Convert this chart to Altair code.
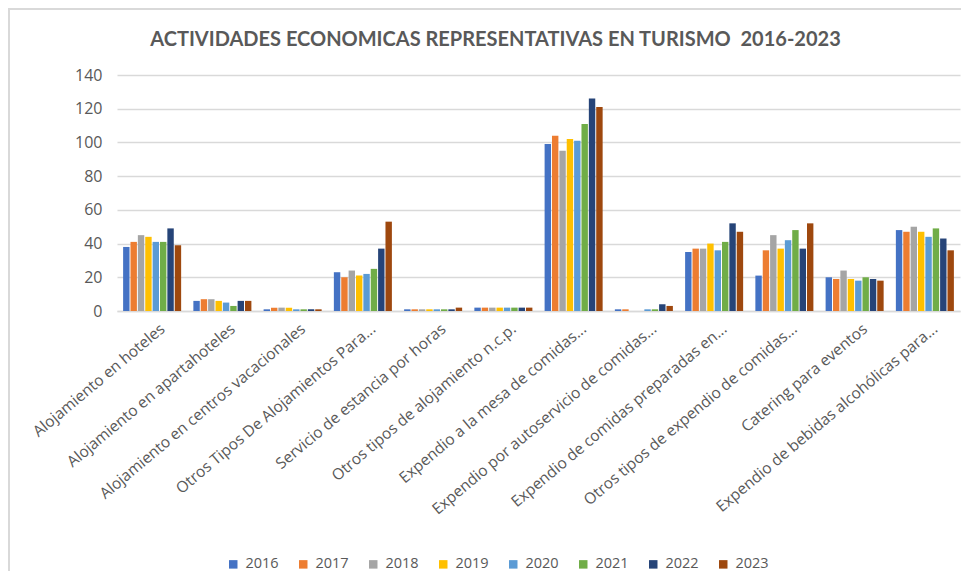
import altair as alt
import pandas as pd

categories = [
    "Alojamiento en hoteles",
    "Alojamiento en apartahoteles",
    "Alojamiento en centros vacacionales",
    "Otros Tipos De Alojamientos Para...",
    "Servicio de estancia por horas",
    "Otros tipos de alojamiento n.c.p.",
    "Expendio a la mesa de comidas...",
    "Expendio por autoservicio de comidas...",
    "Expendio de comidas preparadas en...",
    "Otros tipos de expendio de comidas...",
    "Catering para eventos",
    "Expendio de bebidas alcohólicas para...",
]

years = ["2016", "2017", "2018", "2019", "2020", "2021", "2022", "2023"]
colors = ["#4472C4", "#ED7D31", "#A5A5A5", "#FFC000", "#5B9BD5", "#70AD47", "#264478", "#9E480E"]

v2016 = [38, 6, 1, 23, 1, 2, 99, 1, 35, 21, 20, 48]
v2017 = [41, 7, 2, 20, 1, 2, 104, 1, 37, 36, 19, 47]
v2018 = [45, 7, 2, 24, 1, 2, 95, 0, 37, 45, 24, 50]
v2019 = [44, 6, 2, 21, 1, 2, 102, 0, 40, 37, 19, 47]
v2020 = [41, 5, 1, 22, 1, 2, 101, 1, 36, 42, 18, 44]
v2021 = [41, 3, 1, 25, 1, 2, 111, 1, 41, 48, 20, 49]
v2022 = [49, 6, 1, 37, 1, 2, 126, 4, 52, 37, 19, 43]
v2023 = [39, 6, 1, 53, 2, 2, 121, 3, 47, 52, 18, 36]

series = [v2016, v2017, v2018, v2019, v2020, v2021, v2022, v2023]

rows = []
for yr, vals in zip(years, series):
    for cat, v in zip(categories, vals):
        rows.append({"Actividad": cat, "Año": yr, "Valor": v})
df = pd.DataFrame(rows)

grey = "#595959"
font = "Open Sans"

bars = alt.Chart(df).mark_bar().encode(
    x=alt.X(
        "Actividad:N",
        sort=categories,
        scale=alt.Scale(paddingInner=0.174, paddingOuter=0.087),
        axis=alt.Axis(
            title=None, labelAngle=-40, labelFontSize=15.5, labelColor=grey,
            labelFont=font, ticks=False, domainColor="#d9d9d9", domainWidth=1.5,
            labelPadding=10, labelOffset=6, labelLimit=400,
        ),
    ),
    xOffset=alt.XOffset("Año:N", sort=years, scale=alt.Scale(paddingInner=0.13)),
    y=alt.Y(
        "Valor:Q",
        scale=alt.Scale(domain=[0, 140], nice=False),
        axis=alt.Axis(
            values=[0, 20, 40, 60, 80, 100, 120, 140], title=None, domain=False,
            ticks=False, labelPadding=15, gridColor="#d9d9d9", gridWidth=1.5,
            labelFontSize=16, labelColor=grey, labelFont=font,
        ),
    ),
    color=alt.Color(
        "Año:N",
        sort=years,
        scale=alt.Scale(domain=years, range=colors),
        legend=alt.Legend(
            orient="none", legendX=109, legendY=482, direction="horizontal",
            title=None, symbolType="square", symbolSize=72, symbolStrokeWidth=0,
            labelFontSize=14.5, labelFont=font, labelColor=grey,
            columnPadding=17, labelOffset=5,
        ),
    ),
)

frame = alt.Chart(pd.DataFrame({"a": [0]})).mark_rect(
    fillOpacity=0, stroke="#d9d9d9", strokeWidth=2
).encode(
    x=alt.value(-108), x2=alt.value(900), y=alt.value(-66), y2=alt.value(600)
)

chart = alt.layer(frame, bars).properties(
    width=843,
    height=236,
    title=alt.Title(
        "ACTIVIDADES ECONOMICAS REPRESENTATIVAS EN TURISMO \u00a02016-2023",
        font="Lato", fontSize=20, fontWeight="bold", color=grey,
        anchor="middle", dx=-43, offset=-42, frame="group",
    ),
    autosize=alt.AutoSizeParams(type="none"),
    padding={"left": 109, "top": 67, "right": 1, "bottom": 260},
).configure_view(strokeWidth=0)

chart.save("out.html", embed_options={"renderer": "svg", "actions": False})
